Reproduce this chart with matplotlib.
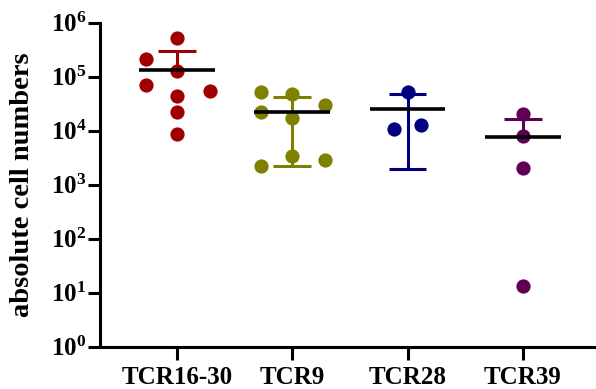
import numpy as np
import matplotlib
matplotlib.use("Agg")
import matplotlib.pyplot as plt

plt.rcParams['font.family'] = ['Liberation Serif', 'DejaVu Serif']
plt.rcParams['font.weight'] = 'bold'
plt.rcParams['mathtext.fontset'] = 'custom'
plt.rcParams['mathtext.rm'] = 'Liberation Serif:bold'
plt.rcParams['mathtext.it'] = 'Liberation Serif:bold'
plt.rcParams['mathtext.bf'] = 'Liberation Serif:bold'

# Cell counts per TCR group
categories = ["TCR16-30", "TCR9", "TCR28", "TCR39"]
tcr16_30 = [5.1e5, 2.1e5, 1.26e5, 7.0e4, 5.4e4, 4.3e4, 2.2e4, 8.8e3]
tcr9 = [5.3e4, 4.8e4, 2.95e4, 2.2e4, 1.7e4, 3.4e3, 2.9e3, 2.2e3]
tcr28 = [5.2e4, 1.07e4, 1.29e4]
tcr39 = [2.04e4, 7.9e3, 2.0e3, 13.5]
groups = [tcr16_30, tcr9, tcr28, tcr39]
colors = ["#A00000", "#808000", "#000080", "#600055"]
ytick_exps = [0, 1, 2, 3, 4, 5, 6]

# horizontal spread of points within each column (scatter layout)
spread = [
    [0, -0.27, 0, -0.27, 0.28, 0, 0, 0],
    [-0.27, 0, 0.28, -0.27, 0, 0, 0.28, -0.27],
    [0, -0.12, 0.12],
    [0, 0, 0, 0],
]

fig = plt.figure(figsize=(5.96, 3.89), dpi=100)
ax = fig.add_axes([0.1678, 0.1088, 0.8322, 0.8329])

for i, (vals, col, offs) in enumerate(zip(groups, colors, spread)):
    v = np.array(vals)
    m = v.mean()
    sd = v.std(ddof=1)
    # error bar (mean ± SD; lower part only if positive)
    top = m + sd
    bot = m - sd
    ax.plot([i, i], [m, top], color=col, lw=2.2, zorder=2, solid_capstyle='butt')
    ax.plot([i - 0.165, i + 0.165], [top, top], color=col, lw=2.2, zorder=2, solid_capstyle='butt')
    if bot > 0:
        ax.plot([i, i], [bot, m], color=col, lw=2.2, zorder=2, solid_capstyle='butt')
        ax.plot([i - 0.165, i + 0.165], [bot, bot], color=col, lw=2.2, zorder=2, solid_capstyle='butt')
    ax.scatter(i + np.array(offs), v, s=105, color=col, zorder=3, linewidths=0)
    ax.plot([i - 0.33, i + 0.33], [m, m], color='black', lw=2.6, zorder=4, solid_capstyle='butt')

ax.set_yscale('log')
ax.set_ylim(1, 1e6)
ax.set_xlim(-0.672, 3.638)
ax.set_yticks([10.0 ** e for e in ytick_exps])
ax.set_yticklabels([r'$10^{%d}$' % e for e in ytick_exps])
ax.yaxis.set_minor_locator(matplotlib.ticker.NullLocator())
ax.set_xticks(range(len(categories)))
ax.set_xticklabels(categories, fontsize=18, fontweight='bold')
ax.tick_params(axis='y', labelsize=18, length=9, width=2.2, pad=1)
ax.tick_params(axis='x', length=9, width=2.2, pad=5)
ax.set_ylabel("absolute cell numbers", fontsize=20.5, fontweight='bold')
ax.yaxis.set_label_coords(-0.131, 0.5)

for s in ['top', 'right']:
    ax.spines[s].set_visible(False)
for s in ['left', 'bottom']:
    ax.spines[s].set_linewidth(2.2)

fig.savefig("out.png", dpi=100)
